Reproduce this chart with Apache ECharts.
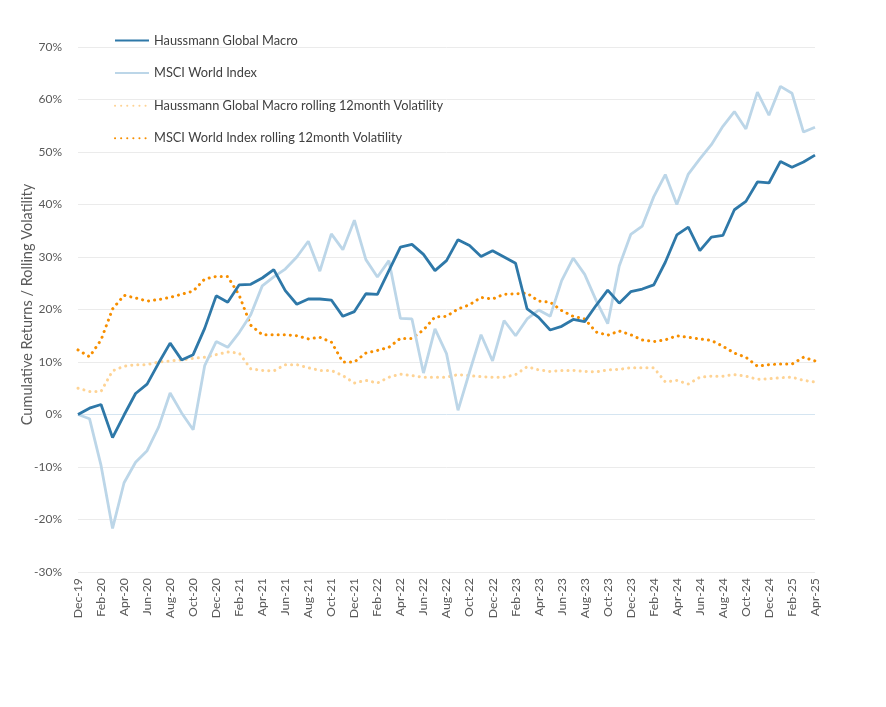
<!DOCTYPE html>
<html>
<head>
<meta charset="utf-8">
<script src="https://cdn.jsdelivr.net/npm/echarts@6/dist/echarts.min.js"></script>
<style>html,body{margin:0;padding:0;background:#fff;}#c{width:886px;height:707px;}</style>
</head>
<body>
<div id="c"></div>
<script>
const monthNames = ['Jan','Feb','Mar','Apr','May','Jun','Jul','Aug','Sep','Oct','Nov','Dec'];
const startYear = 2019, startMonth = 11, monthCount = 65;
const categories = [];
for (let i = 0; i < monthCount; i++) {
  const m = (startMonth + i) % 12;
  const y = startYear + Math.floor((startMonth + i) / 12);
  categories.push(monthNames[m] + '-' + String(y).slice(2));
}
const seriesNames = ['Haussmann Global Macro', 'MSCI World Index', 'Haussmann Global Macro rolling 12month Volatility', 'MSCI World Index rolling 12month Volatility'];
const haussmann = [0, 1.2, 1.9, -4.4, -0.1, 4.0, 5.8, 9.8, 13.6, 10.4, 11.4, 16.4, 22.6, 21.4, 24.7, 24.8, 26.0, 27.6, 23.6, 21.0, 22.0, 22.0, 21.8, 18.7, 19.6, 23.0, 22.9, 27.4, 31.9, 32.4, 30.5, 27.4, 29.3, 33.3, 32.2, 30.1, 31.2, 30.0, 28.8, 20.1, 18.5, 16.1, 16.8, 18.1, 17.7, 20.8, 23.7, 21.2, 23.4, 23.9, 24.7, 29.0, 34.2, 35.7, 31.2, 33.8, 34.1, 39.0, 40.6, 44.3, 44.1, 48.2, 47.1, 48.1, 49.4];
const msci = [0, -0.8, -9.7, -21.7, -13.0, -9.1, -6.9, -2.4, 4.1, 0.3, -2.9, 9.3, 13.9, 12.8, 15.6, 19.0, 24.5, 26.2, 27.7, 30.0, 33.0, 27.3, 34.4, 31.4, 37.0, 29.5, 26.2, 29.3, 18.3, 18.2, 7.9, 16.3, 11.6, 0.8, 8.1, 15.2, 10.2, 17.9, 15.0, 18.2, 19.9, 18.7, 25.5, 29.8, 26.7, 21.7, 17.3, 28.3, 34.3, 35.9, 41.5, 45.7, 40.0, 45.8, 48.7, 51.4, 54.9, 57.7, 54.4, 61.4, 57.0, 62.5, 61.2, 53.8, 54.7];
const haussmannVol = [5.0, 4.4, 4.4, 8.3, 9.2, 9.5, 9.5, 10.0, 10.2, 10.4, 10.7, 10.9, 11.4, 11.9, 11.7, 8.7, 8.4, 8.3, 9.5, 9.5, 8.9, 8.4, 8.4, 7.4, 6.0, 6.5, 6.0, 7.1, 7.7, 7.4, 7.1, 7.1, 7.1, 7.6, 7.4, 7.2, 7.1, 7.1, 7.6, 9.1, 8.5, 8.2, 8.4, 8.4, 8.2, 8.1, 8.5, 8.6, 8.9, 8.9, 8.9, 6.2, 6.5, 5.8, 7.1, 7.3, 7.3, 7.6, 7.3, 6.7, 6.8, 7.0, 7.1, 6.5, 6.2];
const msciVol = [12.3, 11.0, 14.2, 20.1, 22.7, 22.2, 21.6, 21.9, 22.3, 22.9, 23.5, 25.8, 26.3, 26.3, 22.7, 17.0, 15.2, 15.2, 15.2, 15.0, 14.4, 14.7, 13.8, 10.0, 10.0, 11.7, 12.2, 12.8, 14.5, 14.5, 16.1, 18.6, 18.7, 20.1, 20.9, 22.3, 22.0, 22.9, 23.0, 23.1, 21.6, 21.4, 19.8, 18.7, 18.2, 15.7, 15.1, 15.9, 15.2, 14.2, 13.9, 14.2, 15.0, 14.7, 14.4, 14.1, 13.0, 11.7, 10.9, 9.2, 9.5, 9.6, 9.6, 10.9, 10.2];

const FONT = 'Lato';
const gridColors = ['#ebebeb','#ebebeb','#ebebeb','#d5e5f1','#ebebeb','#ebebeb','#ebebeb','#ebebeb','#ebebeb','#ebebeb','#ebebeb'];

const chart = echarts.init(document.getElementById('c'), null, {renderer: 'canvas'});
chart.setOption({
  animation: false,
  textStyle: {fontFamily: FONT},
  grid: {left: 78, right: 71, top: 47, bottom: 135, containLabel: false},
  legend: {
    orient: 'vertical', left: 109, top: 29, itemGap: 19.6, itemWidth: 34, itemHeight: 14,
    itemStyle: {opacity: 0},
    textStyle: {fontFamily: FONT, fontSize: 12.8, color: '#404040'},
    data: seriesNames
  },
  xAxis: {
    type: 'category', data: categories, boundaryGap: false,
    axisLine: {show: false}, axisTick: {show: false},
    axisLabel: {rotate: 90, interval: 1, color: '#595959', fontSize: 12.3, fontFamily: FONT, margin: 6},
    splitLine: {show: false}
  },
  yAxis: {
    type: 'value', min: -30, max: 70, interval: 10,
    name: 'Cumulative Returns / Rolling Volatility', nameLocation: 'middle', nameGap: 43,
    nameMoveOverlap: false,
    nameTextStyle: {fontFamily: FONT, fontSize: 14.5, color: '#595959', padding: [0, 0, 0, 10]},
    axisLine: {show: false}, axisTick: {show: false},
    axisLabel: {formatter: '{value}%', color: '#595959', fontSize: 12, fontFamily: FONT, margin: 16},
    splitLine: {show: true, lineStyle: {color: gridColors, width: 1}}
  },
  series: [
    {name: seriesNames[0], type: 'line', data: haussmann, symbol: 'none', z: 5,
     lineStyle: {color: '#2e78a8', width: 2.8}, itemStyle: {color: '#2e78a8'}},
    {name: seriesNames[1], type: 'line', data: msci, symbol: 'none', z: 4,
     lineStyle: {color: '#bcd6e8', width: 2.8}, itemStyle: {color: '#bcd6e8'}},
    {name: seriesNames[2], type: 'line', data: haussmannVol, symbol: 'none', z: 3,
     lineStyle: {color: '#fed394', width: 3, type: [0.1, 6], cap: 'round'}, itemStyle: {color: '#fed394'}},
    {name: seriesNames[3], type: 'line', data: msciVol, symbol: 'none', z: 3,
     lineStyle: {color: '#f78f00', width: 3, type: [0.1, 6], cap: 'round'}, itemStyle: {color: '#f78f00'}}
  ]
});
</script>
</body>
</html>
